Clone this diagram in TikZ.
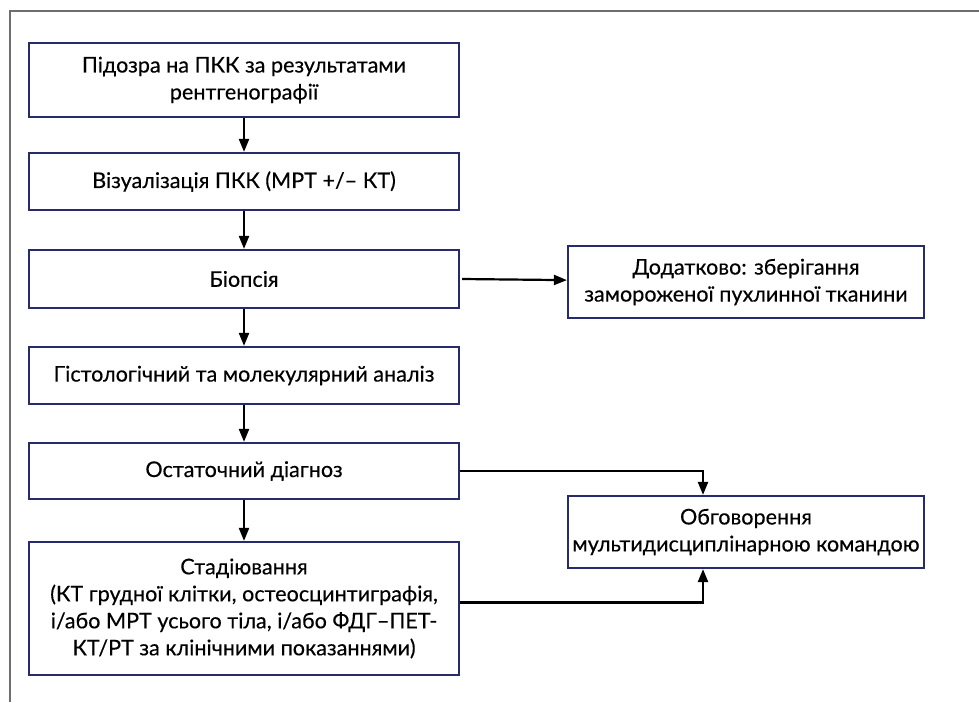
\documentclass[tikz,border=0pt]{standalone}
\usepackage{fontspec}
\setmainfont{Lato}[FakeBold=0.3]
\usetikzlibrary{arrows.meta}
\definecolor{boxblue}{RGB}{40,42,110}
\definecolor{framegray}{RGB}{110,110,110}

\begin{document}
\begin{tikzpicture}[x=1pt,y=-1pt]
    \tikzset{stepbox/.style={draw=boxblue, line width=2.2pt, rectangle, align=center,
        font=\fontsize{21.6}{27}\selectfont, inner sep=0pt},
      mainbox/.style={stepbox, minimum width=430pt},
      sidebox/.style={stepbox, minimum width=356pt, minimum height=72pt},
      arr/.style={line width=2.2pt, -{Triangle[width=10pt,length=13pt]}}}
    \useasboundingbox (0,0) rectangle (979,702);
    \draw[framegray, line width=1.5pt] (10,702) -- (10,11) -- (979,11);

    \node[mainbox, minimum height=74pt] (1) at (244,80) {Підозра на ПКК за результатами\\ рентгенографії};
    \node[mainbox, minimum height=57pt] (2) at (244,181.5) {Візуалізація ПКК (МРТ +/-- КТ)};
    \node[mainbox, minimum height=58pt] (3) at (244,279) {Біопсія};
    \node[mainbox, minimum height=57pt] (4) at (244,375.5) {Гістологічний та молекулярний аналіз};
    \node[mainbox, minimum height=56pt] (5) at (244,471) {Остаточний діагноз};
    \node[mainbox, minimum height=133pt] (6) at (244,608.5) {Стадіювання\\ (КТ грудної клітки, остеосцинтиграфія,\\ і/або МРТ усього тіла, і/або ФДГ--ПЕТ-\\ КТ/РТ за клінічними показаннями)};
    \node[sidebox] (7) at (746,282) {Додатково: зберігання\\ замороженої пухлинної тканини};
    \node[sidebox] (8) at (746,532) {Обговорення\\ мультидисциплінарною командою};

    \draw[arr]  (1) -- (2);
    \draw[arr]  (2) -- (3);
    \draw[arr]  (3) -- (4);
    \draw[arr]  (4) -- (5);
    \draw[arr]  (5) -- (6);
    \draw[arr]  ([xshift=2pt]3.east) -- (7);
    \draw[arr]  (5.east) -| ([xshift=-43pt]8.north);
    \draw[arr]  ([yshift=6pt]6.east) -| ([xshift=-43pt]8.south);
\end{tikzpicture}
\end{document}
